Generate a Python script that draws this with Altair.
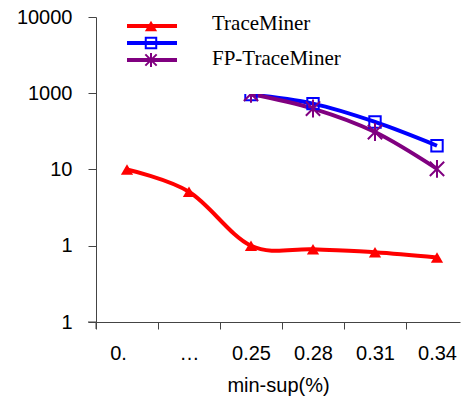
import altair as alt
import pandas as pd

# ---- data ----
x_labels = ["0.", "\u2026", "0.25", "0.28", "0.31", "0.34"]
x_index = [0, 1, 2, 3, 4, 5]
trace_miner = [10, 5.1, 1.0, 0.9, 0.82, 0.70]
fp_index = [2, 3, 4, 5]
fp_trace_miner = [96, 73, 42, 20.5]
third_series = [98, 63, 31, 10.2]
y_ticks = [0.1, 1, 10, 100, 1000]
y_tick_labels = ["1", "1", "10", "1000", "10000"]
legend_names = ["TraceMiner", "FP-TraceMiner"]

rows = []
for i, v in zip(x_index, trace_miner):
    rows.append({"s": "TraceMiner", "i": i, "v": v})
for i, v in zip(fp_index, fp_trace_miner):
    rows.append({"s": "FP-TraceMiner", "i": i, "v": v})
for i, v in zip(fp_index, third_series):
    rows.append({"s": "Third", "i": i, "v": v})
df = pd.DataFrame(rows)

colors = {"TraceMiner": "#FF0000", "FP-TraceMiner": "#0000FF", "Third": "#800080"}
STAR = "M0,-1L0,1M-0.8,-0.8L0.8,0.8M-0.8,0.8L0.8,-0.8"

W, H = 364, 305
BAND = 62
x_label_expr = "[" + ",".join("'" + l + "'" for l in x_labels) + "][datum.value]"
y_label_expr = " : ".join(
    f"datum.value == {t} ? '{l}'" for t, l in zip(y_ticks, y_tick_labels)
) + " : ''"

xenc = alt.X(
    "i:Q",
    scale=alt.Scale(domain=[-0.5, -0.5 + W / BAND], nice=False, zero=False),
    axis=alt.Axis(
        values=x_index, labelExpr=x_label_expr, tickOffset=-BAND / 2,
        labelOffset={"condition": {"test": "datum.value == 0", "value": BAND / 2 - 9},
                     "value": BAND / 2},
        title="min-sup(%)", tickSize=7, labelPadding=14,
        titlePadding=12,
    ),
)
yenc = alt.Y(
    "v:Q",
    scale=alt.Scale(type="log", domain=[0.1, 1000], nice=False),
    axis=alt.Axis(values=y_ticks, labelExpr=y_label_expr, title=None,
                  tickSize=8, labelPadding=16),
)

base = alt.Chart(df)
layers = []
for s in ["TraceMiner", "FP-TraceMiner", "Third"]:
    layers.append(
        base.transform_filter(alt.datum.s == s)
        .mark_line(color=colors[s], strokeWidth=4, interpolate="cardinal")
        .encode(x=xenc, y=yenc)
    )
layers.append(
    base.transform_filter(alt.datum.s == "TraceMiner")
    .mark_point(shape="triangle-up", filled=True, color=colors["TraceMiner"], size=150, opacity=1)
    .encode(x=xenc, y=yenc)
)
layers.append(
    base.transform_filter(alt.datum.s == "FP-TraceMiner")
    .mark_point(shape="square", filled=False, color=colors["FP-TraceMiner"], size=130, strokeWidth=2, opacity=1)
    .encode(x=xenc, y=yenc)
)
layers.append(
    base.transform_filter(alt.datum.s == "Third")
    .mark_point(shape=STAR, filled=False, color=colors["Third"], size=320, strokeWidth=2, opacity=1)
    .encode(x=xenc, y=yenc)
)

# legend box (drawn over the data, as in the reference)
one = alt.Chart(pd.DataFrame({"k": [0]}))
layers.append(
    one.mark_rect(color="white").encode(
        x=alt.value(12), x2=alt.value(268), y=alt.value(-17), y2=alt.value(77)
    )
)
legend_y = [9, 26, 43]
shapes = [("triangle-up", True, 150, 0), ("square", False, 110, 2), (STAR, False, 200, 2)]
for (s, ly, (shp, filled, size, sw)) in zip(["TraceMiner", "FP-TraceMiner", "Third"], legend_y, shapes):
    layers.append(
        one.mark_rule(color=colors[s], strokeWidth=4).encode(
            x=alt.value(31), x2=alt.value(81), y=alt.value(ly)
        )
    )
    kw = dict(shape=shp, filled=filled, color=colors[s], size=size, opacity=1)
    if sw:
        kw["strokeWidth"] = sw
    layers.append(one.mark_point(**kw).encode(x=alt.value(55), y=alt.value(ly)))
for name, by in zip(legend_names, [13, 48]):
    layers.append(
        one.mark_text(text=name, font="Liberation Serif", fontSize=21, align="left",
                      baseline="alphabetic", color="black")
        .encode(x=alt.value(116), y=alt.value(by))
    )

# axis-line overhangs
layers.append(one.mark_rule(color="#444", strokeWidth=1).encode(
    x=alt.value(0), y=alt.value(H), y2=alt.value(H + 7)))
layers.append(one.mark_rule(color="#444", strokeWidth=1).encode(
    x=alt.value(-8), x2=alt.value(0), y=alt.value(H)))

chart = (
    alt.layer(*layers)
    .properties(width=W, height=H, autosize="none",
                padding={"left": 96, "top": 17, "right": 1, "bottom": 82})
    .configure_view(stroke=None)
    .configure_axis(
        grid=False, domainColor="#444", tickColor="#444", labelColor="black",
        labelFont="Liberation Sans", labelFontSize=20, titleFont="Liberation Sans",
        titleFontSize=20, titleFontWeight="normal", titleColor="black",
    )
)

chart.save("out.html", embed_options={"renderer": "svg", "actions": False})
